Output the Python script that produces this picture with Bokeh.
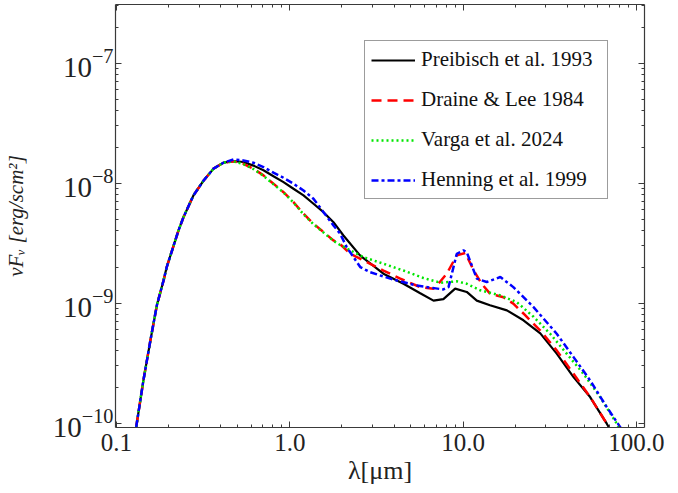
from bokeh.plotting import figure
from bokeh.models import (Range1d, FixedTicker, LogAxis, Legend, LegendItem,
                          CustomJSTickFormatter)
from bokeh.embed import file_html
from bokeh.resources import INLINE

# ---- data (wavelength in micron, nu F_nu in erg/s/cm^2) ----
rise_wl = [0.130, 0.143, 0.157, 0.171, 0.187, 0.195, 0.228, 0.2435, 0.278, 0.318, 0.363, 0.414]
rise_f = [9.3e-11, 2.27e-10, 4.9e-10, 9.6e-10, 1.55e-9, 2.0e-9, 4.04e-9, 5.2e-9, 7.9e-9, 1.05e-8,
          1.32e-8, 1.48e-8]

preibisch_wl = rise_wl + [0.473, 0.540, 0.617, 0.705, 0.805, 0.92, 1.05, 1.20, 1.37, 1.565, 1.787,
                          2.04, 2.55, 3.47, 4.53, 5.66, 6.75, 7.7, 9.0, 10.5, 12.0, 14.3, 17.9,
                          22.3, 27.9, 34.7, 43.4, 54.1, 67.5, 72.0]
preibisch_f = rise_f + [1.525e-8, 1.50e-8, 1.40e-8, 1.28e-8, 1.14e-8, 1.02e-8, 8.98e-9, 7.9e-9,
                        6.73e-9, 5.73e-9, 4.73e-9, 3.66e-9, 2.49e-9, 1.76e-9, 1.45e-9, 1.21e-9,
                        1.05e-9, 1.08e-9, 1.32e-9, 1.24e-9, 1.05e-9, 9.6e-10, 8.7e-10, 7.2e-10,
                        5.6e-10, 3.8e-10, 2.42e-10, 1.65e-10, 9.9e-11, 8.4e-11]

draine_wl = rise_wl + [0.473, 0.540, 0.617, 0.705, 0.805, 0.92, 1.05, 1.20, 1.37, 1.565, 1.787,
                       1.953, 2.23, 2.66, 3.47, 4.34, 5.66, 6.75, 7.2, 8.05, 9.2, 10.3, 11.5, 12.8,
                       14.3, 17.1, 19.5, 22.3, 27.9, 34.7, 43.4, 54.1, 67.5, 72.0]
draine_f = rise_f + [1.52e-8, 1.45e-8, 1.32e-8, 1.16e-8, 9.9e-9, 8.4e-9, 6.95e-9, 5.56e-9, 4.59e-9,
                     3.91e-9, 3.33e-9, 3.1e-9, 2.58e-9, 2.27e-9, 1.87e-9, 1.60e-9, 1.36e-9, 1.32e-9,
                     1.45e-9, 1.76e-9, 2.50e-9, 2.62e-9, 1.88e-9, 1.45e-9, 1.20e-9, 1.12e-9,
                     9.9e-10, 8.2e-10, 5.9e-10, 4.04e-10, 2.58e-10, 1.65e-10, 9.9e-11, 8.4e-11]

varga_wl = rise_wl + [0.473, 0.540, 0.617, 0.705, 0.805, 0.92, 1.05, 1.20, 1.37, 1.565, 1.787,
                      1.953, 2.66, 3.47, 4.53, 5.9, 7.4, 9.2, 10.5, 12.55, 16.4, 20.4, 25.5, 31.8,
                      39.7, 49.5, 61.8, 77.1, 81.0]
varga_f = rise_f + [1.52e-8, 1.44e-8, 1.31e-8, 1.15e-8, 9.8e-9, 8.35e-9, 6.9e-9, 5.5e-9, 4.55e-9,
                    3.88e-9, 3.3e-9, 3.05e-9, 2.42e-9, 2.13e-9, 1.87e-9, 1.62e-9, 1.48e-9, 1.52e-9,
                    1.45e-9, 1.28e-9, 1.16e-9, 1.02e-9, 7.7e-10, 5.56e-10, 3.78e-10, 2.58e-10,
                    1.65e-10, 9.9e-11, 8.5e-11]

henning_wl = rise_wl + [0.473, 0.540, 0.617, 0.705, 0.805, 0.92, 1.05, 1.20, 1.37, 1.565, 1.787,
                        1.953, 2.13, 2.55, 2.91, 3.80, 5.40, 7.70, 8.24, 9.2, 10.05, 10.5, 12.0,
                        13.7, 16.4, 19.5, 25.5, 34.7, 43.4, 54.1, 67.5, 80.7, 84.0]
henning_f = rise_f + [1.576e-8, 1.545e-8, 1.479e-8, 1.359e-8, 1.222e-8, 1.109e-8, 9.89e-9, 8.69e-9,
                      7.41e-9, 5.73e-9, 4.44e-9, 3.79e-9, 2.93e-9, 2.0e-9, 1.81e-9, 1.60e-9, 1.40e-9,
                      1.30e-9, 1.36e-9, 2.58e-9, 2.75e-9, 2.66e-9, 1.60e-9, 1.50e-9, 1.65e-9,
                      1.36e-9, 9.27e-10, 5.56e-10, 3.55e-10, 2.27e-10, 1.36e-10, 9.27e-11, 8.3e-11]

series_names = ["Preibisch et al. 1993", "Draine & Lee 1984", "Varga et al. 2024", "Henning et al. 1999"]

x_major = [0.1, 1.0, 10.0, 100.0]
y_major = [1e-10, 1e-9, 1e-8, 1e-7]

FONT = "Liberation Serif"
AX = "#3a3a3a"

p = figure(x_axis_type="log", y_axis_type="log",
           x_range=Range1d(0.0987, 111.4), y_range=Range1d(9.2e-11, 3.08e-7),
           frame_width=529, frame_height=423,
           min_border_left=112, min_border_right=37, min_border_top=4, min_border_bottom=60,
           output_backend="svg", toolbar_location=None)
p.grid.visible = False
p.outline_line_color = None
p.background_fill_color = "white"

x_minor = [k * 10.0 ** e for e in range(-2, 3) for k in range(2, 10)]
y_minor = [k * 10.0 ** e for e in range(-11, -6) for k in range(2, 10)]
xt = FixedTicker(ticks=x_major, minor_ticks=x_minor)
yt = FixedTicker(ticks=y_major, minor_ticks=y_minor)


def style(ax, size="25px"):
    ax.axis_line_color = AX
    ax.axis_line_width = 1.2
    ax.major_tick_line_color = AX
    ax.minor_tick_line_color = AX
    ax.major_tick_in = 6
    ax.major_tick_out = 0
    ax.minor_tick_in = 3
    ax.minor_tick_out = 0
    ax.major_label_text_font = FONT
    ax.major_label_text_font_size = size
    ax.major_label_text_color = "#222222"


xa = p.xaxis[0]
xa.ticker = xt
xa.formatter = CustomJSTickFormatter(code="return tick.toFixed(1);")
style(xa)
xa.major_label_standoff = 6
xa.axis_label = "λ[μm]"
xa.axis_label_text_font = FONT
xa.axis_label_text_font_style = "normal"
xa.axis_label_text_font_size = "26px"
xa.axis_label_text_color = "#222222"
xa.axis_label_standoff = 2

ya = p.yaxis[0]
ya.ticker = yt
style(ya, "29px")
ya.major_label_standoff = 2
ya.axis_label = "νFᵥ [erg/scm²]"
ya.axis_label_text_font = FONT
ya.axis_label_text_font_style = "italic"
ya.axis_label_text_font_size = "21px"
ya.axis_label_text_color = "#222222"
ya.axis_label_standoff = 22

top = LogAxis(ticker=xt)
style(top, "1px")
top.major_label_text_alpha = 0
top.major_label_standoff = 0
p.add_layout(top, "above")

right = LogAxis(ticker=yt)
style(right, "1px")
right.major_label_text_alpha = 0
right.major_label_standoff = 0
p.add_layout(right, "right")

r1 = p.line(preibisch_wl, preibisch_f, line_color="black", line_width=2.2)
r2 = p.line(draine_wl, draine_f, line_color="#ff0000", line_width=2.5, line_dash="10 6")
r3 = p.line(varga_wl, varga_f, line_color="#00e600", line_width=2.5, line_dash="2 3")
r4 = p.line(henning_wl, henning_f, line_color="#0000ff", line_width=2.5, line_dash="7 3 3 3")

legend = Legend(items=[LegendItem(label=n, renderers=[r]) for n, r in zip(series_names, [r1, r2, r3, r4])],
                location=(249, 228), orientation="vertical",
                label_text_font=FONT, label_text_font_size="21px", label_text_color="#111111",
                glyph_width=44, glyph_height=24, label_height=24, label_width=180,
                label_standoff=6, spacing=15, padding=6, margin=0,
                border_line_color=AX, border_line_width=1.2,
                background_fill_color="white", background_fill_alpha=1.0)
p.add_layout(legend)

open("out.html", "w").write(file_html(p, INLINE))
